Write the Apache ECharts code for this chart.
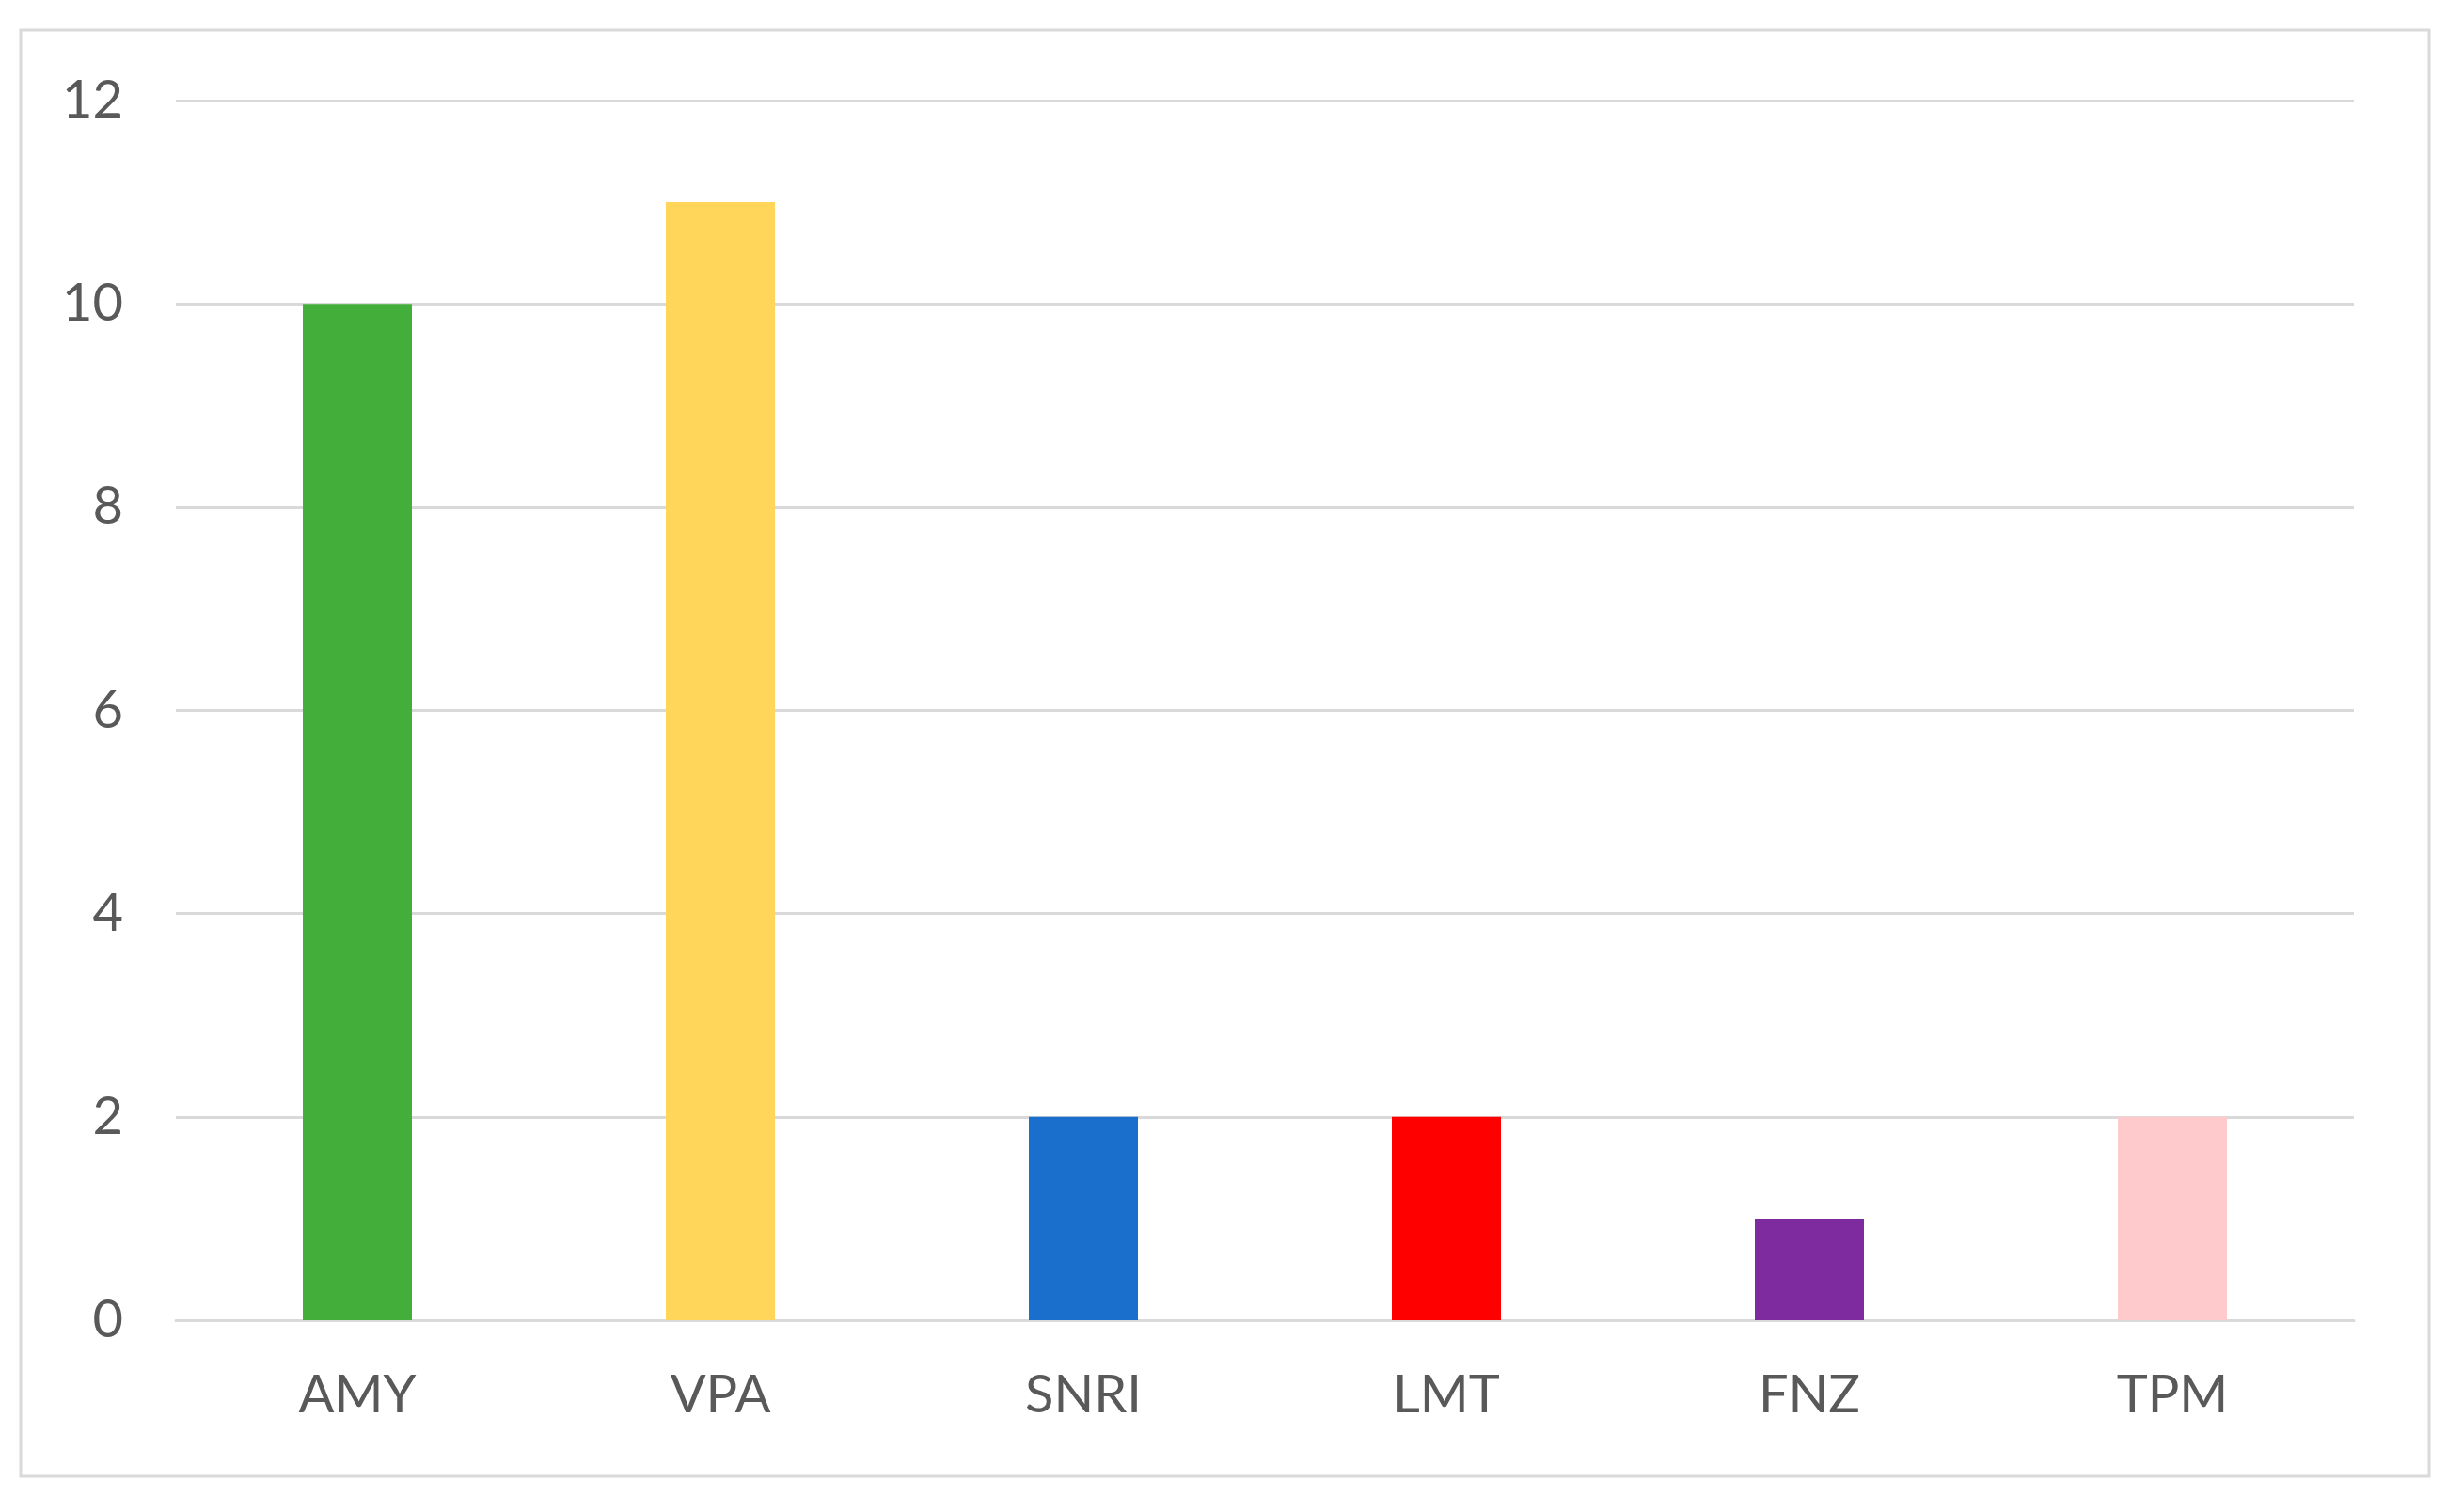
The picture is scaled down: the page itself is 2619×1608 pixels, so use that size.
<!DOCTYPE html>
<html>
<head>
<meta charset="utf-8">
<script src="https://cdn.jsdelivr.net/npm/echarts@6/dist/echarts.min.js"></script>
<style>
  html, body { margin: 0; padding: 0; background: #ffffff; }
  #chart { width: 2619px; height: 1608px; }
</style>
</head>
<body>
<div id="chart"></div>
<script>
const categories = ['AMY', 'VPA', 'SNRI', 'LMT', 'FNZ', 'TPM'];
const values = [10, 11, 2, 2, 1, 2];
const barColors = ['#44AE3B', '#FFD65A', '#1A6FCC', '#FF0000', '#7F2BA0', '#FFCACC'];
const yTicks = [0, 2, 4, 6, 8, 10, 12];

const chart = echarts.init(document.getElementById('chart'));

chart.setOption({
    backgroundColor: '#ffffff',
    animation: false,
    graphic: [{
        type: 'rect',
        shape: { x: 22, y: 32, width: 2561, height: 1538 },
        style: { fill: 'none', stroke: '#d9d9d9', lineWidth: 3 }
    }],
    grid: { left: 187, right: 116, top: 107, bottom: 204 },
    xAxis: {
        type: 'category',
        data: categories,
        axisLine: { show: true, lineStyle: { color: '#d9d9d9', width: 3 } },
        axisTick: { show: false },
        axisLabel: {
            color: '#595959',
            fontFamily: 'Lato',
            fontSize: 56,
            margin: 52
        }
    },
    yAxis: {
        type: 'value',
        min: yTicks[0],
        max: yTicks[yTicks.length - 1],
        interval: 2,
        axisLine: { show: false },
        axisTick: { show: false },
        splitLine: { lineStyle: { color: '#d9d9d9', width: 3 } },
        axisLabel: {
            color: '#595959',
            fontFamily: 'Lato',
            fontSize: 56,
            margin: 56
        }
    },
    series: [{
        type: 'bar',
        barWidth: 116,
        data: values.map((v, i) => ({ value: v, itemStyle: { color: barColors[i] } }))
    }]
});
</script>
</body>
</html>
